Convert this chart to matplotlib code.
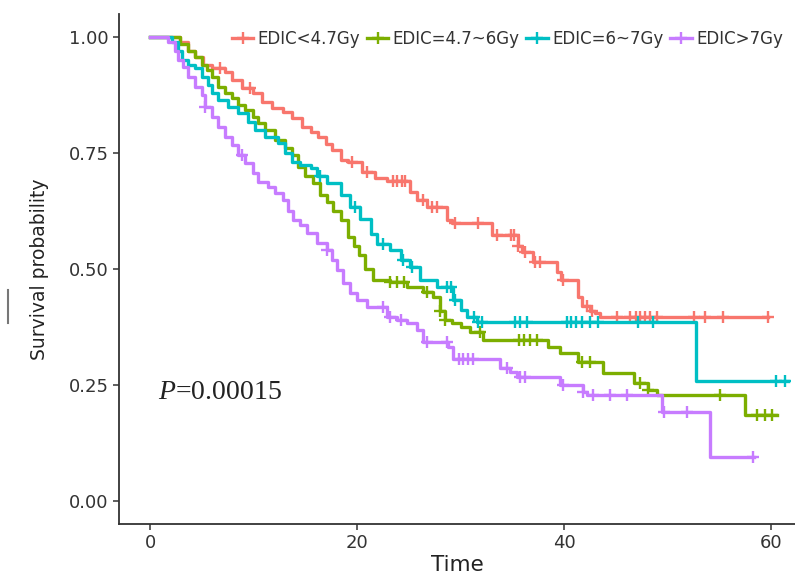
import matplotlib
matplotlib.use('Agg')
import matplotlib.pyplot as plt
from matplotlib.lines import Line2D
import numpy as np

plt.rcParams['mathtext.fontset'] = 'custom'
plt.rcParams['mathtext.it'] = 'Liberation Serif:italic'
plt.rcParams['mathtext.rm'] = 'Liberation Serif'

labels = ['EDIC<4.7Gy', 'EDIC=4.7~6Gy', 'EDIC=6~7Gy', 'EDIC>7Gy']
colors = ['#F8766D', '#7CAE00', '#00BFC4', '#C77CFF']

# Kaplan-Meier step points (time, survival)
t_red = [0, 2.9, 3.7, 4.3, 5.1, 6.0, 7.2, 7.9, 8.9, 9.9, 10.8, 11.8, 12.8, 13.7, 14.7,
         15.5, 16.2, 17.0, 17.6, 18.4, 19.1, 20.5, 21.7, 22.9, 25.1, 25.8, 26.8, 28.7,
         29.2, 33.0, 35.5, 35.9, 37.0, 39.3, 39.7, 41.3, 41.7, 42.5, 43.0, 43.5, 59.7]
s_red = [1.0, 0.99, 0.97, 0.957, 0.94, 0.933, 0.925, 0.907, 0.89, 0.88, 0.86, 0.847, 0.838,
         0.825, 0.806, 0.795, 0.785, 0.77, 0.757, 0.735, 0.73, 0.709, 0.696, 0.69, 0.666,
         0.649, 0.634, 0.606, 0.60, 0.573, 0.55, 0.537, 0.515, 0.494, 0.476, 0.44, 0.42,
         0.41, 0.405, 0.397, 0.397]
c_red = [6.8, 9.7, 19.5, 21.0, 23.5, 23.9, 24.3, 24.6, 26.4, 27.2, 27.7, 29.5, 31.7, 33.5,
         34.9, 35.2, 35.5, 36.2, 37.2, 37.7, 39.9, 42.2, 42.7, 45.1, 46.4, 46.9, 47.3, 47.8,
         48.3, 49.0, 52.5, 53.6, 55.3, 59.7]

t_green = [0, 2.9, 3.7, 4.3, 5.0, 5.5, 6.0, 6.6, 7.2, 7.9, 8.5, 9.2, 9.9, 10.4, 11.1, 12.1,
           13.0, 13.7, 14.3, 15.0, 15.7, 16.4, 17.1, 17.7, 18.4, 19.1, 19.7, 20.2, 20.8,
           21.5, 23.2, 24.8, 26.4, 27.3, 28.0, 28.5, 29.2, 30.0, 30.9, 32.2, 38.4, 39.6,
           41.3, 43.8, 46.7, 48.1, 49.0, 57.5, 60.6]
s_green = [1.0, 0.985, 0.97, 0.957, 0.94, 0.929, 0.914, 0.892, 0.879, 0.869, 0.853, 0.843,
           0.828, 0.815, 0.80, 0.778, 0.761, 0.746, 0.72, 0.70, 0.685, 0.66, 0.645, 0.625,
           0.605, 0.57, 0.55, 0.53, 0.50, 0.476, 0.472, 0.461, 0.45, 0.44, 0.41, 0.39, 0.383,
           0.375, 0.364, 0.347, 0.332, 0.319, 0.30, 0.276, 0.254, 0.239, 0.228, 0.185, 0.185]
c_green = [23.2, 23.9, 24.5, 26.8, 28.0, 28.5, 31.9, 35.6, 36.1, 36.7, 37.4, 41.7, 42.5,
           47.3, 48.1, 55.1, 58.6, 59.4, 60.1]

t_cyan = [0, 2.1, 2.7, 3.1, 3.7, 4.3, 5.0, 5.6, 6.0, 6.6, 7.5, 8.5, 9.5, 10.1, 11.1, 12.4,
          13.0, 13.7, 14.5, 15.5, 16.1, 17.1, 18.4, 19.3, 20.3, 21.3, 21.9, 23.2, 24.2,
          25.1, 26.1, 27.7, 29.3, 30.0, 30.6, 31.6, 52.7, 61.6]
s_cyan = [1.0, 0.99, 0.97, 0.95, 0.94, 0.933, 0.914, 0.897, 0.879, 0.864, 0.849, 0.836,
          0.817, 0.80, 0.785, 0.772, 0.75, 0.731, 0.725, 0.718, 0.70, 0.685, 0.66, 0.634,
          0.608, 0.575, 0.555, 0.541, 0.519, 0.504, 0.476, 0.461, 0.433, 0.412, 0.397,
          0.386, 0.258, 0.258]
c_cyan = [16.4, 19.8, 22.5, 24.4, 25.3, 28.7, 29.1, 29.5, 31.3, 31.7, 32.1, 35.3, 35.7,
          36.4, 40.3, 40.7, 41.1, 41.7, 42.5, 43.3, 47.1, 48.6, 60.5, 61.3]

t_purple = [0, 1.7, 2.4, 2.7, 3.2, 3.7, 4.3, 5.0, 5.3, 6.0, 6.6, 7.2, 7.9, 8.5, 9.2, 9.9,
            10.4, 11.4, 12.1, 12.8, 13.3, 13.8, 14.5, 15.2, 16.1, 17.1, 17.6, 18.1, 18.6,
            19.3, 20.0, 21.0, 22.9, 23.9, 24.8, 25.8, 26.4, 28.8, 29.3, 33.8, 34.8, 35.4,
            39.6, 41.8, 42.2, 49.5, 54.1, 58.3]
s_purple = [1.0, 0.99, 0.97, 0.95, 0.935, 0.914, 0.892, 0.875, 0.849, 0.828, 0.806, 0.785,
            0.767, 0.746, 0.728, 0.707, 0.688, 0.677, 0.664, 0.649, 0.625, 0.606, 0.595,
            0.578, 0.556, 0.541, 0.519, 0.498, 0.47, 0.448, 0.433, 0.418, 0.397, 0.39,
            0.384, 0.369, 0.343, 0.332, 0.305, 0.287, 0.278, 0.267, 0.25, 0.235, 0.228,
            0.192, 0.095, 0.095]
c_purple = [5.3, 8.9, 17.1, 22.5, 23.2, 24.2, 26.8, 28.7, 29.8, 30.2, 30.7, 31.2, 34.5,
            35.7, 36.2, 39.9, 41.8, 42.8, 44.4, 46.1, 49.6, 51.9, 58.2]

times = [t_red, t_green, t_cyan, t_purple]
survs = [s_red, s_green, s_cyan, s_purple]
censors = [c_red, c_green, c_cyan, c_purple]

fig = plt.figure(figsize=(7.95, 5.78), dpi=100)
ax = fig.add_axes([119 / 795, 1 - 524 / 578, 1 - 119 / 795, (524 - 14) / 578])

for t, s, c, col in zip(times, survs, censors, colors):
    t = np.array(t)
    s = np.array(s)
    ax.step(t, s, where='post', color=col, lw=2.4)
    idx = np.searchsorted(t, np.array(c), side='right') - 1
    ax.plot(c, s[idx], ls='none', marker='+', ms=9, mew=1.7, color=col)

ax.set_xlim(-3.0, 62.3)
ax.set_ylim(-0.05, 1.05)
ax.set_xticks([0, 20, 40, 60])
ax.set_yticks([0, 0.25, 0.5, 0.75, 1.0])
ax.set_yticklabels(['0.00', '0.25', '0.50', '0.75', '1.00'])
ax.tick_params(labelsize=13, colors='#333333', length=4, width=1.1)
for side in ['top', 'right']:
    ax.spines[side].set_visible(False)
for side in ['left', 'bottom']:
    ax.spines[side].set_color('#333333')
    ax.spines[side].set_linewidth(1.3)

ax.set_xlabel('Time', fontsize=15.5, color='#222222', labelpad=2)
ax.set_ylabel('Survival probability', fontsize=13.5, color='#222222', labelpad=14)

ax.text(0.8, 0.233, r'$P$=0.00015', fontsize=20, family='Liberation Serif',
        va='center', ha='left', color='#222222')

handles = [Line2D([], [], color=col, lw=2.4, marker='+', ms=9, mew=1.7) for col in colors]
fig.legend(handles, labels, loc='center', bbox_to_anchor=(0.638, 0.932), ncol=4,
           frameon=False, fontsize=12, handlelength=1.3, handletextpad=0.25,
           columnspacing=0.4, labelcolor='#333333')

# small grey mark at the left edge of the original picture
fig.add_artist(Line2D([8 / 795, 8 / 795], [1 - 290 / 578, 1 - 323 / 578], color='#777777', lw=1.5))

fig.savefig('out.png', dpi=100)
